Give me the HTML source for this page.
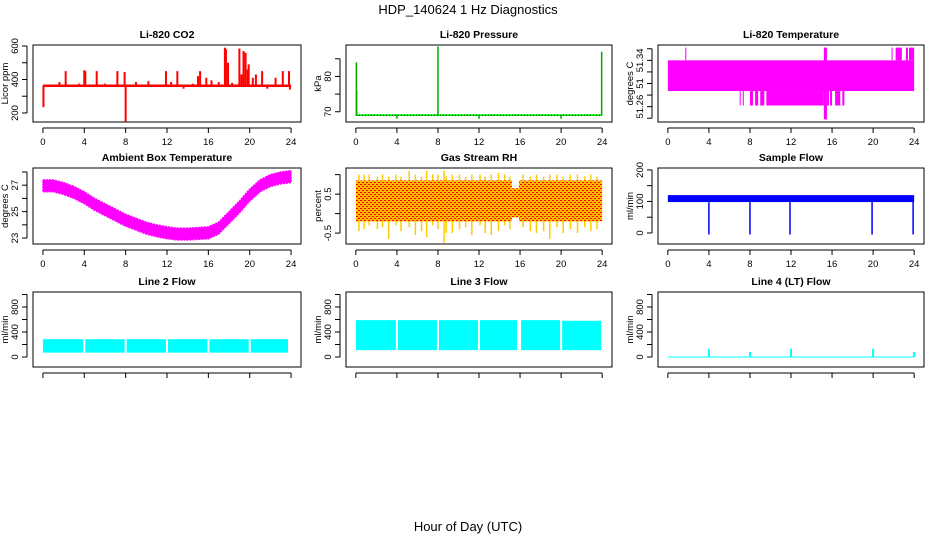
<!DOCTYPE html>
<html><head><meta charset="utf-8"><style>
html,body{margin:0;padding:0;background:#fff;}
svg{display:block;font-family:"Liberation Sans",Arial,sans-serif;}
</style></head><body>
<svg id="fig" width="936" height="540" viewBox="0 0 936 540" xmlns="http://www.w3.org/2000/svg">
<rect x="0" y="0" width="936" height="540" fill="#fff"/>
<text x="468" y="14" text-anchor="middle" font-size="13">HDP_140624  1 Hz Diagnostics</text>
<text x="468" y="531" text-anchor="middle" font-size="13">Hour of Day (UTC)</text>
</svg>
<script>
// ---- data ----
const xTicks = [0,4,8,12,16,20,24];
// CO2
const co2Band = [355,370];
const co2SpikeT = [0.05,1.6,2.2,3.5,4.0,4.1,5.2,6.0,7.2,7.9,8.0,9.0,10.2,11.9,12.4,13.0,13.6,14.5,15.0,15.2,15.8,16.3,17.0,17.6,17.7,17.9,18.3,19.0,19.2,19.4,19.6,19.8,19.9,20.3,20.6,21.2,21.7,22.5,23.2,23.8,23.9];
const co2SpikeV = [235,385,450,375,455,450,450,375,450,445,150,385,390,450,385,450,345,375,420,450,410,395,385,590,580,500,380,585,430,570,560,460,490,410,430,450,345,410,450,450,340];
// Pressure
const presBase = 69;
const presSpikeT = [0.05,0.08,4.0,8.0,12.0,20.0,23.95];
const presSpikeV = [84,76,68,88.5,68,68,87];
// Li-820 temperature segments
const tempSegT0 = [0,1.7,7.0,7.3,8.0,8.5,9.0,9.6,15.2,15.5,15.8,16.3,17.0,21.8,22.2,23.2,23.5];
const tempSegT1 = [24,1.8,7.1,7.4,8.3,8.8,9.4,15.2,15.5,15.7,16.0,16.8,17.2,21.9,22.8,23.4,24.0];
const tempSegLo = [51.287,51.34,51.262,51.262,51.262,51.262,51.262,51.262,51.238,51.262,51.262,51.262,51.262,51.34,51.34,51.34,51.34];
const tempSegHi = [51.34,51.362,51.287,51.287,51.287,51.287,51.287,51.287,51.362,51.287,51.287,51.287,51.287,51.362,51.362,51.362,51.362];
// Ambient box temperature (hourly band)
const ambHour = [0,1,2,3,4,5,6,7,8,9,10,11,12,13,14,15,16,17,18,19,20,21,22,23,24];
const ambLo = [26.5,26.5,26.3,26.0,25.6,25.1,24.7,24.3,23.9,23.6,23.3,23.1,22.95,22.85,22.85,22.9,22.95,23.3,24.1,24.9,25.8,26.5,26.9,27.1,27.2];
const ambHi = [27.4,27.4,27.2,26.9,26.5,26.0,25.6,25.2,24.8,24.5,24.2,24.0,23.85,23.75,23.75,23.8,23.85,24.2,25.0,25.8,26.7,27.4,27.8,28.0,28.1];
// Gas stream RH
const rhBand = [-0.2,0.85];
const rhSpikeT = [0.3,0.8,1.3,2.1,2.6,3.2,3.9,4.4,5.2,5.8,6.4,6.9,7.5,8.0,8.6,8.8,9.4,10.1,10.7,11.3,12.1,12.6,13.2,13.9,14.5,15.0,16.3,17.0,17.6,18.3,18.9,19.6,20.2,20.9,21.6,22.3,22.9,23.5];
const rhSpikeLo = [-0.45,-0.4,-0.3,-0.4,-0.35,-0.65,-0.3,-0.45,-0.35,-0.55,-0.45,-0.6,-0.3,-0.4,-0.75,-0.5,-0.5,-0.4,-0.35,-0.55,-0.3,-0.5,-0.55,-0.45,-0.3,-0.4,-0.35,-0.45,-0.5,-0.45,-0.65,-0.35,-0.5,-0.4,-0.5,-0.35,-0.45,-0.4];
const rhSpikeHi = [1.0,1.0,1.0,0.95,1.0,0.95,1.0,0.95,1.1,1.0,0.95,1.1,1.0,1.0,1.1,0.95,1.0,1.0,0.95,1.0,1.0,0.95,1.0,1.05,1.0,0.95,1.0,0.95,1.0,0.95,1.0,1.0,0.95,1.0,1.0,0.95,1.0,0.95];
// Sample flow
const sfBand = [98,120];
const sfDipT = [4.0,8.0,11.9,19.9,23.9];
const sfDipV = [-5,-5,-5,-5,-5];
// Line flows: band segments between gaps
const l2SegT0 = [0,4.1,8.1,12.1,16.1,20.1];
const l2SegT1 = [3.9,7.9,11.9,15.9,19.9,23.7];
const l2Lo = [70,70,70,70,70,70];
const l2Hi = [285,285,285,285,285,285];
const l3SegT0 = [0,4.1,8.1,12.1,16.1,20.1];
const l3SegT1 = [3.9,7.9,11.9,15.7,19.9,23.9];
const l3Lo = [110,110,110,110,110,110];
const l3Hi = [590,590,590,590,590,580];
const l4SpikeT = [4.0,8.0,12.0,20.0,24.0];
const l4SpikeV = [130,80,130,130,80];

// ---- drawing ----
const NS="http://www.w3.org/2000/svg";
const svg=document.getElementById('fig');
function el(tag,attrs,parent){const e=document.createElementNS(NS,tag);for(const k in attrs)e.setAttribute(k,attrs[k]);(parent||svg).appendChild(e);return e;}
function makePanel(name,x0,x1,y0,y1,ymin,ymax,yTicks,yLabels,ylab,title,showX){
  const g=el('g',{});
  
  
  const xmin=-0.96,xmax=24.96;
  const sx=v=>x0+(v-xmin)/(xmax-xmin)*(x1-x0);
  const sy=v=>y1-(v-ymin)/(ymax-ymin)*(y1-y0);
  const t=el('text',{x:(x0+x1)/2,y:y0-7,'text-anchor':'middle','font-size':'10.5','font-weight':'bold'},g);t.textContent=title;
  
  
  const plot=el('g',{},g);
  el('rect',{x:x0,y:y0,width:x1-x0,height:y1-y0,fill:'none',stroke:'#000','stroke-width':1},g);
  el('line',{x1:sx(0),x2:sx(24),y1:y1+6,y2:y1+6,stroke:'#000'},g);
  xTicks.forEach(v=>{el('line',{x1:sx(v),x2:sx(v),y1:y1+6,y2:y1+11,stroke:'#000'},g);
    if(showX){const tx=el('text',{x:sx(v),y:y1+23,'text-anchor':'middle','font-size':'9.5'},g);tx.textContent=v;
      
      }});
  const ax=x0-6;
  el('line',{x1:ax,x2:ax,y1:sy(yTicks[0]),y2:sy(yTicks[yTicks.length-1]),stroke:'#000'},g);
  yTicks.forEach(v=>el('line',{x1:ax-5,x2:ax,y1:sy(v),y2:sy(v),stroke:'#000'},g));
  yLabels.forEach(v=>{const tx=el('text',{x:0,y:0,'text-anchor':'middle','font-size':'9.5',transform:`translate(${ax-9},${sy(v[0])}) rotate(-90)`},g);tx.textContent=v[1];
    
    });
  const yl=el('text',{x:0,y:0,'text-anchor':'middle','font-size':'9.5',transform:`translate(${x0-25},${(y0+y1)/2}) rotate(-90)`},g);yl.textContent=ylab;
  
  
  return {sx,sy,plot};
}
function vbar(p,t,lo,hi,col,w){const r=el('line',{x1:p.sx(t),x2:p.sx(t),y1:p.sy(lo),y2:p.sy(hi),stroke:col,'stroke-width':w||1},p.plot);return r;}
function band(p,t0,t1,lo,hi,col){return el('rect',{x:p.sx(t0),y:p.sy(hi),width:Math.max(1,p.sx(t1)-p.sx(t0)),height:Math.max(1,p.sy(lo)-p.sy(hi)),fill:col},p.plot);}

const C=[[33,301],[346,612],[658,924]], R=[[45,122],[168,244],[292,367]];
// CO2
let p=makePanel('co2-panel',C[0][0],C[0][1],R[0][0],R[0][1],146,606,[200,300,400,500,600],[[200,'200'],[400,'400'],[600,'600']],'Licor ppm','Li-820 CO2',true);
co2SpikeT.forEach((t,i)=>{const m=vbar(p,t,co2Band[0]+7,co2SpikeV[i],'#f00',2);
  
  });
let b=band(p,0,24,co2Band[0],co2Band[1],'#f00');


// Pressure
p=makePanel('pressure-panel',C[1][0],C[1][1],R[0][0],R[0][1],67.1,88.9,[70,75,80,85],[[70,'70'],[80,'80']],'kPa','Li-820 Pressure',true);
b=band(p,0,24,presBase-0.2,presBase+0.3,'#0f0');


el('line',{x1:p.sx(0),x2:p.sx(24),y1:p.sy(presBase),y2:p.sy(presBase),stroke:'#000','stroke-dasharray':'1 2'},p.plot);
presSpikeT.forEach((t,i)=>{const m=vbar(p,t,presBase,presSpikeV[i],'#0a0',1.5);
  
  });
// Li-820 temperature
p=makePanel('li820-temperature-panel',C[2][0],C[2][1],R[0][0],R[0][1],51.2335,51.3665,[51.24,51.26,51.28,51.30,51.32,51.34,51.36],[[51.26,'51.26'],[51.30,'51'],[51.34,'51.34']],'degrees C','Li-820 Temperature',true);
tempSegT0.forEach((t,i)=>{const m=band(p,t,tempSegT1[i],tempSegLo[i],tempSegHi[i],'#f0f');
  
  });
// Ambient
p=makePanel('ambient-temperature-panel',C[0][0],C[0][1],R[1][0],R[1][1],22.55,28.3,[23,24,25,26,27,28],[[23,'23'],[25,'25'],[27,'27']],'degrees C','Ambient Box Temperature',true);
{let pts=ambHour.map((t,i)=>p.sx(t)+','+p.sy(ambHi[i])).concat(ambHour.slice().reverse().map((t,j)=>{const i=ambHour.length-1-j;return p.sx(t)+','+p.sy(ambLo[i]);}));
 const m=el('polygon',{points:pts.join(' '),fill:'#f0f',stroke:'#f0f','stroke-width':1.5,'stroke-dasharray':'2 1'},p.plot);
 
 }
// RH
p=makePanel('gas-rh-panel',C[1][0],C[1][1],R[1][0],R[1][1],-0.78,1.17,[-0.5,0,0.5,1.0],[[-0.5,'-0.5'],[0.5,'0.5']],'percent','Gas Stream RH',true);
{const defs=el('defs',{});const pat=el('pattern',{id:'rhpat',width:4,height:4,patternUnits:'userSpaceOnUse'},defs);
 el('rect',{width:4,height:4,fill:'#fb0'},pat);el('rect',{x:0,y:0,width:2,height:1,fill:'#f00'},pat);el('rect',{x:2,y:2,width:2,height:1,fill:'#f00'},pat);}
rhSpikeT.forEach((t,i)=>{const m=vbar(p,t,rhSpikeLo[i],rhSpikeHi[i],'#fc0',1.5);
  
  });
b=band(p,0,15.2,rhBand[0],rhBand[1],'url(#rhpat)');


b=band(p,15.9,24,rhBand[0],rhBand[1],'url(#rhpat)');


b=band(p,15.2,15.9,-0.1,0.65,'url(#rhpat)');


// Sample flow
p=makePanel('sample-flow-panel',C[2][0],C[2][1],R[1][0],R[1][1],-35,206,[0,50,100,150,200],[[0,'0'],[100,'100'],[200,'200']],'ml/min','Sample Flow',true);
b=band(p,0,24,sfBand[0],sfBand[1],'#00f');


sfDipT.forEach((t,i)=>{const m=vbar(p,t,sfDipV[i],sfBand[0],'#00f',1.5);
  
  });
// Line 2
const flowTicks=[0,200,400,600,800,1000], flowLabels=[[0,'0'],[400,'400'],[800,'800']];
p=makePanel('line2-flow-panel',C[0][0],C[0][1],R[2][0],R[2][1],-160,1040,flowTicks,flowLabels,'ml/min','Line 2 Flow',false);
l2SegT0.forEach((t,i)=>{const m=band(p,t,l2SegT1[i],l2Lo[i],l2Hi[i],'#0ff');
  
  });
// Line 3
p=makePanel('line3-flow-panel',C[1][0],C[1][1],R[2][0],R[2][1],-160,1040,flowTicks,flowLabels,'ml/min','Line 3 Flow',false);
l3SegT0.forEach((t,i)=>{const m=band(p,t,l3SegT1[i],l3Lo[i],l3Hi[i],'#0ff');
  
  });
// Line 4
p=makePanel('line4-flow-panel',C[2][0],C[2][1],R[2][0],R[2][1],-160,1040,flowTicks,flowLabels,'ml/min','Line 4 (LT) Flow',false);
b=el('line',{x1:p.sx(0),x2:p.sx(24),y1:p.sy(0),y2:p.sy(0),stroke:'#0ff'},p.plot);


l4SpikeT.forEach((t,i)=>{const m=vbar(p,t,0,l4SpikeV[i],'#0ff',2);
  
  });
</script>
</body></html>
